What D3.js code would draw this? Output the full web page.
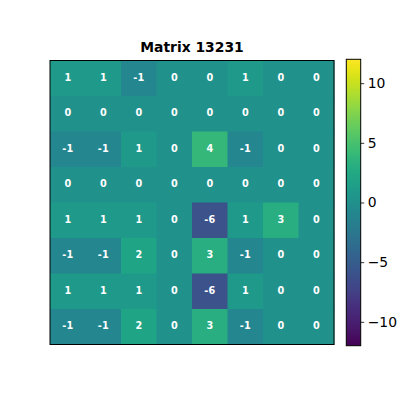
<!DOCTYPE html>
<html><head><meta charset="utf-8">
<script src="https://cdn.jsdelivr.net/npm/d3@7"></script>
<style>html,body{margin:0;padding:0;background:#fff;}svg{display:block;}</style>
</head><body><svg id="c" width="400" height="400"></svg>
<script>
const title = "Matrix 13231";
const rows = [0,1,2,3,4,5,6,7];
const cols = [0,1,2,3,4,5,6,7];
const matrix = [
  [ 1, 1,-1, 0, 0, 1, 0, 0],
  [ 0, 0, 0, 0, 0, 0, 0, 0],
  [-1,-1, 1, 0, 4,-1, 0, 0],
  [ 0, 0, 0, 0, 0, 0, 0, 0],
  [ 1, 1, 1, 0,-6, 1, 3, 0],
  [-1,-1, 2, 0, 3,-1, 0, 0],
  [ 1, 1, 1, 0,-6, 1, 0, 0],
  [-1,-1, 2, 0, 3,-1, 0, 0]
];
const colorDomain = [-12, 12];
const cbTicks = [-10, -5, 0, 5, 10];

const svg = d3.select("#c");
const hm = {x0: 50, x1: 334, y0: 60.5, y1: 344.5};
const cb = {x0: 346.3, x1: 360.7, y0: 59.3, y1: 345.7};

const x = d3.scaleBand().domain(cols).range([hm.x0, hm.x1]);
const y = d3.scaleBand().domain(rows).range([hm.y0, hm.y1]);
const color = d3.scaleSequential(d3.interpolateViridis).domain(colorDomain);

const cells = [];
matrix.forEach((r, i) => r.forEach((v, j) => cells.push({i, j, v})));

svg.append("g").selectAll("rect").data(cells).join("rect")
  .attr("x", d => x(d.j)).attr("y", d => y(d.i))
  .attr("width", x.bandwidth() + 0.5).attr("height", y.bandwidth() + 0.5)
  .attr("fill", d => color(d.v));

svg.append("g").selectAll("text").data(cells).join("text")
  .attr("x", d => x(d.j) + x.bandwidth() / 2)
  .attr("y", d => y(d.i) + y.bandwidth() / 2 - 0.8)
  .attr("text-anchor", "middle").attr("dominant-baseline", "central")
  .attr("font-family", "DejaVu Sans").attr("font-weight", "bold")
  .attr("font-size", "9.7px").attr("fill", "#fff")
  .text(d => String(d.v));

svg.append("rect").attr("x", hm.x0).attr("y", hm.y0)
  .attr("width", hm.x1 - hm.x0).attr("height", hm.y1 - hm.y0)
  .attr("fill", "none").attr("stroke", "#000").attr("stroke-width", 1);

svg.append("text").attr("x", (hm.x0 + hm.x1) / 2).attr("y", 52)
  .attr("text-anchor", "middle").attr("font-family", "DejaVu Sans")
  .attr("font-weight", "bold").attr("font-size", "13.9px").attr("fill", "#000")
  .text(title);

// colorbar
const cy = d3.scaleLinear().domain(colorDomain).range([cb.y1, cb.y0]);
const defs = svg.append("defs");
const grad = defs.append("linearGradient").attr("id", "vg")
  .attr("x1", 0).attr("y1", 1).attr("x2", 0).attr("y2", 0);
d3.range(0, 1.0001, 0.02).forEach(t => {
  grad.append("stop").attr("offset", t).attr("stop-color", d3.interpolateViridis(t));
});
svg.append("rect").attr("x", cb.x0).attr("y", cb.y0)
  .attr("width", cb.x1 - cb.x0).attr("height", cb.y1 - cb.y0)
  .attr("fill", "url(#vg)").attr("stroke", "#000").attr("stroke-width", 1);

const axis = d3.axisRight(cy).tickValues(cbTicks).tickSize(3.5).tickPadding(3.5)
  .tickFormat(d => d < 0 ? "\u2212" + Math.abs(d) : String(d));
const ag = svg.append("g").attr("transform", `translate(${cb.x1},0)`).call(axis);
ag.select(".domain").remove();
ag.selectAll("text").attr("font-family", "DejaVu Sans").attr("font-size", "13.9px").attr("fill", "#000");
ag.selectAll("line").attr("stroke", "#000").attr("stroke-width", 0.8);
</script></body></html>
